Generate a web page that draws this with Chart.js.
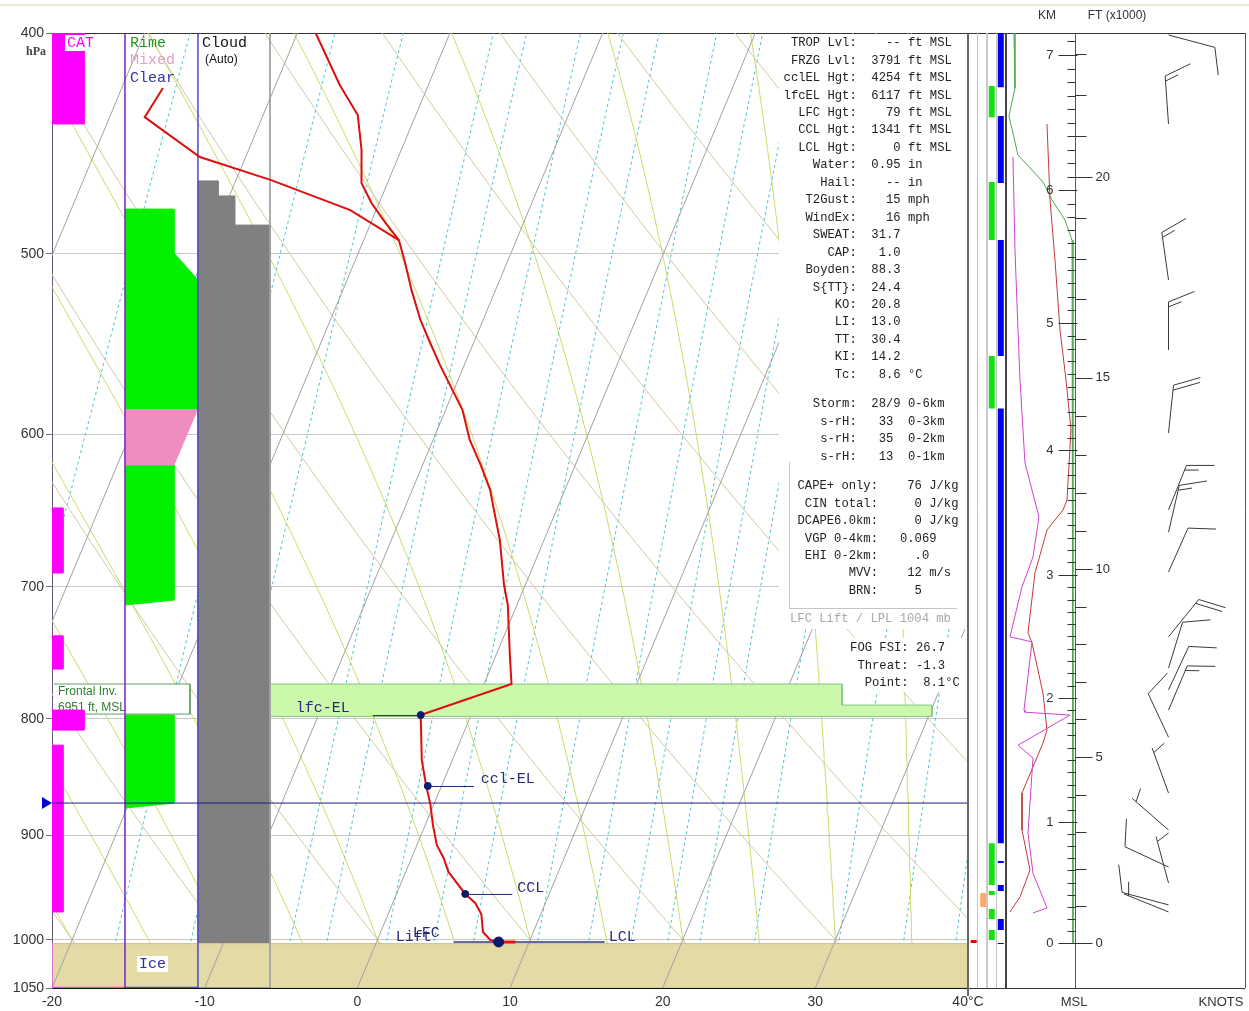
<!DOCTYPE html>
<html>
<head>
<meta charset="utf-8">
<title>Skew-T</title>
<script src="https://cdn.jsdelivr.net/npm/chart.js@4.4.1/dist/chart.umd.min.js"></script>
<style>
html,body{margin:0;padding:0;background:#fff;overflow:hidden;}
#wrap{position:relative;width:1249px;height:1011px;}
#wrap canvas{position:absolute;top:0;}
</style>
</head>
<body>
<div id="wrap">
<canvas id="cMain" width="1249" height="1011" style="left:0px;width:1249px;height:1011px"></canvas>
<canvas id="cStrip" width="38" height="1011" style="left:968px;width:38px;height:1011px"></canvas>
<canvas id="cProf" width="69" height="1011" style="left:1006px;width:69px;height:1011px"></canvas>
<canvas id="cWind" width="219" height="1011" style="left:1030px;width:219px;height:1011px"></canvas>
</div>
<script>
// ================= DATA =================
const pressureTicks = [400, 500, 600, 700, 800, 900, 1000, 1050];
const temperatureTicks = [-20, -10, 0, 10, 20, 30, 40];

const isothermTemps = [-60, -50, -40, -30, -20, -10, 0, 10, 20, 30, 40];
const dryAdiabatT1000 = [-60, -50, -40, -30, -20, -10, 0, 10, 20, 30, 40, 50, 60, 70, 80, 90, 100, 110, 120, 130];
const moistAdiabatT1000 = [-20, -15, -10, -5, 0, 5, 10, 15, 20, 25, 30, 35, 40, 45, 50];
const mixingRatios = [0.4, 1, 1.5, 2.5, 3, 4, 5, 6, 8, 10, 12, 14, 16, 20, 28, 36, 44];

// temperature profile (hPa, °C)
const tempP = [400, 421.6, 434.6, 450.2, 465.5, 475.0, 484.2, 493.1, 504.2, 518.7, 534.6, 545.5, 559.4, 573.7, 585.4, 603.4, 618.9, 634.7, 651.0, 667.6, 698.6, 713.0, 750.0, 772.3, 796.9, 834.0, 856.1, 872.8, 890.5, 908.7, 920.7, 933.8, 954.8, 963.5, 974.3, 992.2, 1000.3, 1002.3];
const tempT = [-28.8, -25.8, -23.8, -22.6, -21.7, -20.5, -19.1, -17.7, -16.7, -15.5, -14.1, -13.0, -11.6, -10.1, -8.9, -7.6, -6.2, -4.9, -3.9, -2.9, -1.4, -0.6, 0.9, 1.8, -3.3, -2.0, -1.0, -0.2, 0.5, 1.3, 2.1, 2.8, 4.5, 5.4, 6.1, 6.7, 7.4, 8.0];
// dew point where it leaves the temperature curve
const dewP = [493.1, 478.4, 464.1, 453.4, 435.5, 422.9];
const dewT = [-17.7, -21.7, -27.7, -33.0, -37.7, -37.3];
const surfaceP = 1004;
const surfaceSegT = [8.0, 9.1];
const freezingP = 871;
const lclLineP = 1002.3;
const lclLineX = [6.3, 16.2];

const parcelNames = ['lfc-EL', 'ccl-EL', 'CCL', 'LCL'];
const parcelP = [796.9, 856.1, 954.8, 1002.3];
const parcelT = [-3.3, -0.9, 4.5, 8.0];

// clear-air turbulence bars (hPa top/bottom, level 1 light / 2 moderate)
const catTopP = [400, 646.4, 735.6, 792.9, 821.5];
const catBotP = [438.5, 690.3, 760.7, 809.1, 972.3];
const catLevel = [2, 1, 1, 2, 1];
// icing polygons: [severity index, hPa]
const icingRime1 = [[0, 477.9], [1, 477.9], [1, 499.6], [2, 513.4], [2, 584.6], [0, 584.6]];
const icingMixed = [[0, 584.6], [2, 584.6], [1, 618.9], [0, 618.9]];
const icingRime2 = [[0, 618.9], [1, 618.9], [1, 709.5], [0, 713.0]];
const icingRime3 = [[0, 796.9], [1, 796.9], [1, 871.0], [0, 875.4]];
// cloud cover steps
const cloudP = [464.5, 471.6, 485.7, 1003.3];
const cloudCover = [0.28, 0.51, 1.0];
// frontal inversion layer
const inversionTopP = 772.3;
const inversionStepP = 788.9;
const inversionBotP = 798.0;

// side strip segments (hPa pairs)
const stripGreen = [[422.0, 435.5], [465.0, 493.1], [554.4, 584.6], [907.0, 946.2], [952.0, 955.8], [969.4, 979.3], [990.2, 1000.3]];
const stripBlue = [[400, 422.5], [435.0, 465.5], [493.1, 554.4], [584.6, 907.0], [923.5, 925.4], [946.2, 952.0], [979.3, 990.2], [1003.3, 1004.3]];
const stripOrange = [[953.9, 967.4]];
const stripRed = [[1000.3, 1003.3]];

// height panel profiles (hPa, panel units 0-100)
const panelGreenP = [400, 422.9, 435.0, 452.5, 465.0, 473.5, 483.2, 493.1, 508.3, 1003.3];
const panelGreenV = [11.6, 13.0, 4.3, 17.4, 53.6, 66.7, 85.5, 95.7, 97.1, 97.1];
const panelRedP = [438.5, 473.5, 503.2, 540.1, 568.0, 597.4, 641.2, 647.7, 661.0, 690.3, 733.4, 740.8, 779.4, 809.1, 819.8, 862.2, 895.0, 932.0, 957.7, 972.3];
const panelRedV = [59.4, 63.8, 71.0, 78.3, 87.0, 94.2, 88.4, 82.6, 59.4, 42.0, 31.9, 37.7, 53.6, 59.4, 53.6, 23.2, 23.2, 34.8, 20.3, 5.8];
const panelMagP = [453.4, 498.1, 540.1, 568.0, 617.7, 652.3, 679.3, 700.0, 736.3, 740.1, 792.9, 794.6, 796.9, 821.5, 832.3, 897.8, 934.9, 968.4, 973.3];
const panelMagV = [10.1, 13.0, 17.4, 20.3, 27.5, 47.8, 39.1, 23.2, 5.8, 37.7, 26.1, 27.5, 92.8, 17.4, 39.1, 31.9, 39.1, 59.4, 39.1];

// height axis
const kmTickLabels = [0, 1, 2, 3, 4, 5, 6, 7];
const kmTickP = [1003.3, 887.9, 783.3, 691.7, 609.8, 536.3, 468.9, 409.0];
const ftTickLabels = [0, 5, 10, 15, 20];

// wind barbs
const barbP = [400.8, 438.5, 513.4, 551.0, 599.2, 647.7, 662.4, 689.6, 736.3, 760.0, 776.9, 792.9, 814.9, 862.2, 895.0, 929.2, 944.3, 965.4, 972.3];
const barbDir = [105, 356, 352, 0, 6, 22, 13, 24, 39, 17, 25, 23, 335, 340, 311, 295, 345, 285, 292];
const barbKt = [10, 15, 15, 15, 20, 15, 15, 10, 20, 10, 10, 15, 10, 5, 5, 10, 5, 10, 5];

// indices table
const tableA = [
 ['TROP Lvl:', '    -- ft MSL'], ['FRZG Lvl:', '  3791 ft MSL'], ['cclEL Hgt:', '  4254 ft MSL'],
 ['lfcEL Hgt:', '  6117 ft MSL'], ['LFC Hgt:', '    79 ft MSL'], ['CCL Hgt:', '  1341 ft MSL'],
 ['LCL Hgt:', '     0 ft MSL'], ['Water:', '  0.95 in'], ['Hail:', '    -- in'],
 ['T2Gust:', '    15 mph'], ['WindEx:', '    16 mph'], ['SWEAT:', '  31.7'], ['CAP:', '   1.0'],
 ['Boyden:', '  88.3'], ['S{TT}:', '  24.4'], ['KO:', '  20.8'], ['LI:', '  13.0'],
 ['TT:', '  30.4'], ['KI:', '  14.2'], ['Tc:', '   8.6 °C']
];
const tableStorm = [['Storm:', '  28/9 0-6km'], ['s-rH:', '   33  0-3km'], ['s-rH:', '   35  0-2km'], ['s-rH:', '   13  0-1km']];
const tableB = [
 ['CAPE+ only:', '    76 J/kg'], ['CIN total:', '     0 J/kg'], ['DCAPE6.0km:', '     0 J/kg'],
 ['VGP 0-4km:', '   0.069'], ['EHI 0-2km:', '     .0'], ['MVV:', '    12 m/s'], ['BRN:', '     5']
];
const tableFog = [['FOG FSI:', ' 26.7'], ['Threat:', ' -1.3'], ['Point:', '  8.1°C']];

// ================= HELPERS =================
const SKEW = 62.2, PBOT = 1050, PTOP = 400;
function skewX(t, p) { return t + SKEW * Math.log10(PBOT / p); }
function dryCurve(t0) {
  const th = t0 + 273.15, pts = [];
  for (let p = 1050; p >= 400; p -= 10) pts.push({x: skewX(th * Math.pow(p / 1000, 0.2857) - 273.15, p), y: p});
  return pts;
}
function lapse(p, T) {
  const Tc = T - 273.15, es = 6.112 * Math.exp(17.67 * Tc / (Tc + 243.5)), rs = 0.622 * es / (p - es);
  return (287.04 * T + 2.501e6 * rs) / (p * (1005.7 + 2.501e6 * 2.501e6 * rs * 0.622 / (287.04 * T * T)));
}
function moistCurve(t0) {
  let T = t0 + 273.15, p = 1000; const up = [{p, T}];
  while (p > 400) { const k1 = lapse(p, T); const k2 = lapse(p - 1, T - k1); T -= 2 * k2; p -= 2; up.push({p, T}); }
  T = t0 + 273.15; p = 1000; const down = [];
  while (p < 1050) { const k1 = lapse(p, T); const k2 = lapse(p + 1, T + k1); T += 2 * k2; p += 2; down.push({p, T}); }
  const all = down.reverse().concat(up);
  return all.filter((o, i) => i % 5 === 0 || i === all.length - 1).map(o => ({x: skewX(o.T - 273.15, o.p), y: o.p}));
}
function mixCurve(w) {
  const pts = [];
  for (let p = 1050; p >= 400; p -= 25) {
    const e = w * p / (622 + w), l = Math.log(e / 6.112), td = 243.5 * l / (17.67 - l);
    pts.push({x: skewX(td, p), y: p});
  }
  return pts;
}
function rect(x0, x1, p0, p1) { return [{x: x0, y: p0}, {x: x1, y: p0}, {x: x1, y: p1}, {x: x0, y: p1}]; }

// layout of the side columns in the main chart (axis units)
const ICE_X = [-15.22, -12.01, -10.44];
const CLOUD_X0 = -10.44, CLOUD_X1 = -5.72;
const CAT_W = [0, 0.72, 2.10];
const MONO = '"Liberation Mono","Courier New",monospace';
const SANS = '"Liberation Sans",Arial,sans-serif';

Chart.defaults.font.family = SANS;
Chart.defaults.animation = false;

// ================= MAIN CHART =================
const ds = [];
const base = {pointRadius: 0, pointHoverRadius: 0, borderWidth: 1, fill: false, tension: 0, spanGaps: false};
function L(data, opts) { ds.push(Object.assign({}, base, {data}, opts)); }

dryAdiabatT1000.forEach(t => L(dryCurve(t), {borderColor: '#d4c8a0', order: 100}));
moistAdiabatT1000.forEach(t => L(moistCurve(t), {borderColor: '#cbdc68', order: 100}));
mixingRatios.forEach(w => L(mixCurve(w), {borderColor: '#4ac3d3', borderDash: [3, 3], order: 100}));
L(rect(-20, 40, surfaceP, 1050), {backgroundColor: '#e4daa6', borderColor: '#c9be86', borderWidth: 1, fill: 'shape', order: 90});
isothermTemps.forEach(t => L([{x: skewX(t, PBOT), y: PBOT}, {x: skewX(t, PTOP), y: PTOP}], {borderColor: '#a2a2a2', order: 80}));
// inversion band
L([{x: CLOUD_X1, y: inversionTopP}, {x: 31.75, y: inversionTopP}, {x: 31.75, y: inversionStepP}, {x: 37.64, y: inversionStepP}, {x: 37.64, y: inversionBotP}, {x: CLOUD_X1, y: inversionBotP}],
  {backgroundColor: '#ccf8ac', borderColor: '#86c486', fill: 'shape', order: 70});
// cloud column
(function () {
  const w = CLOUD_X1 - CLOUD_X0, pts = [{x: CLOUD_X0, y: cloudP[3]}, {x: CLOUD_X0, y: cloudP[0]}];
  for (let i = 0; i < 3; i++) { pts.push({x: CLOUD_X0 + cloudCover[i] * w, y: cloudP[i]}); pts.push({x: CLOUD_X0 + cloudCover[i] * w, y: cloudP[i + 1]}); }
  L(pts, {backgroundColor: '#808080', borderColor: '#808080', fill: 'shape', order: 70});
})();
[[icingRime1, '#00f000'], [icingMixed, '#ee8ec0'], [icingRime2, '#00f000'], [icingRime3, '#00f000']].forEach(([poly, col]) =>
  L(poly.map(([s, p]) => ({x: ICE_X[s], y: p})), {backgroundColor: col, borderColor: col, fill: 'shape', order: 70}));
// frontal inversion label box
L(rect(-19.87, -10.96, 772.3, 796.1), {backgroundColor: '#ffffff', borderColor: '#5f9f5f', fill: 'shape', order: 60,
  texts: [{t: 'Frontal Inv.', dx: 4, dy: 8}, {t: '6951 ft, MSL', dx: 4, dy: 24}]});
// CAT bars
catTopP.forEach((t, i) => L(rect(-20, -20 + CAT_W[catLevel[i]], t, catBotP[i]), {backgroundColor: '#ff00ff', borderColor: '#ff00ff', fill: 'shape', order: 50}));
// column outlines
L([{x: ICE_X[0], y: 400}, {x: ICE_X[0], y: 1050}], {borderColor: '#7a22c4', borderWidth: 1.5, order: 40});
L([{x: ICE_X[2], y: 400}, {x: ICE_X[2], y: 1050}], {borderColor: '#4a4ac8', borderWidth: 1.5, order: 40});
L([{x: CLOUD_X1, y: 400}, {x: CLOUD_X1, y: 1050}], {borderColor: '#a0a0a0', order: 40});
L([{x: -20, y: surfaceP}, {x: -20, y: 1049.5}, {x: ICE_X[0], y: 1049.5}], {borderColor: '#e050e0', borderWidth: 1.5, order: 40});
L([{x: ICE_X[0], y: 1049.5}, {x: ICE_X[2], y: 1049.5}], {borderColor: '#4a4ac8', borderWidth: 1.5, order: 40});
L([{x: ICE_X[2], y: 1049.5}, {x: CLOUD_X1, y: 1049.5}], {borderColor: '#999999', order: 40});
// freezing level and LCL line
L([{x: -20, y: freezingP}, {x: 40, y: freezingP}], {borderColor: '#1c1c8c', order: 30});
L([{x: lclLineX[0], y: lclLineP}, {x: lclLineX[1], y: lclLineP}], {borderColor: '#5f6c9c', borderWidth: 2, order: 30});
// profiles
L(tempP.map((p, i) => ({x: skewX(tempT[i], p), y: p})), {borderColor: '#dc1010', borderWidth: 2, order: 20});
L(dewP.map((p, i) => ({x: skewX(dewT[i], p), y: p})), {borderColor: '#dc1010', borderWidth: 2, order: 20});
L(surfaceSegT.map(t => ({x: skewX(t, lclLineP), y: lclLineP})), {borderColor: '#ee1010', borderWidth: 3, order: 20});
L(parcelP.map((p, i) => ({x: skewX(parcelT[i], p), y: p})), {showLine: false, pointRadius: [3.5, 3.5, 3.5, 5], pointBackgroundColor: '#0a1a6a', pointBorderColor: '#0a1a6a', order: 10});

function txt(ctx, s, x, y, font, color, align) {
  ctx.font = font; ctx.fillStyle = color; ctx.textAlign = align || 'left'; ctx.textBaseline = 'middle'; ctx.fillText(s, x, y);
}
function boxTxt(ctx, s, x, y, font, color) {
  ctx.font = font; const w = ctx.measureText(s).width;
  ctx.fillStyle = '#fff'; ctx.fillRect(x - 2, y - 8, w + 4, 16);
  txt(ctx, s, x, y, font, color);
}

const datasetTextPlugin = {
  id: 'dsText',
  afterDatasetDraw(chart, args) {
    const d = chart.data.datasets[args.index];
    if (!d.texts) return;
    const c = chart.ctx, xs = chart.scales.x, ys = chart.scales.y;
    const rx = xs.getPixelForValue(d.data[0].x), ry = ys.getPixelForValue(d.data[0].y);
    d.texts.forEach(o => txt(c, o.t, rx + o.dx, ry + o.dy, '12px ' + SANS, '#2f7d2f'));
  }
};

const mainPlugin = {
  id: 'mainDecor',
  afterDatasetsDraw(chart) {
    const c = chart.ctx, xs = chart.scales.x, ys = chart.scales.y, a = chart.chartArea;
    c.save();
    // table backgrounds
    c.fillStyle = '#fff';
    c.fillRect(779, a.top + 1, a.right - 779 - 1, 628 - a.top);
    c.fillRect(845, 638, a.right - 845 - 1, 54);
    const F = '12.2px ' + MONO;
    tableA.forEach((r, i) => { const y = 43 + i * 17.45; txt(c, r[0], 856.7, y, F, '#222', 'right'); txt(c, r[1], 856.7, y, F, '#222', 'left'); });
    tableStorm.forEach((r, i) => { const y = 404 + i * 17.45; txt(c, r[0], 856.7, y, F, '#222', 'right'); txt(c, r[1], 856.7, y, F, '#222', 'left'); });
    tableB.forEach((r, i) => { const y = 486 + i * 17.45; txt(c, r[0], 878, y, F, '#222', 'right'); txt(c, r[1], 878, y, F, '#222', 'left'); });
    tableFog.forEach((r, i) => { const y = 648 + i * 17.45; txt(c, r[0], 908.6, y, F, '#222', 'right'); txt(c, r[1], 908.6, y, F, '#222', 'left'); });
    txt(c, 'LFC Lift / LPL 1004 mb', 790, 619, F, '#a8a8a8');
    c.strokeStyle = '#c4c4c4'; c.lineWidth = 1;
    c.beginPath(); c.moveTo(789.5, 462); c.lineTo(789.5, 608.5); c.lineTo(957, 608.5); c.stroke();

    // column headers
    const F15 = '15px ' + MONO;
    boxTxt(c, 'CAT', 67, 43, F15, '#ff00ff');
    txt(c, 'Rime', 130, 43, F15, '#229922');
    txt(c, 'Mixed', 130, 60, F15, '#e8a0c8');
    txt(c, 'Clear', 130, 78, F15, '#3333aa');
    txt(c, 'Cloud', 202, 43, F15, '#111');
    txt(c, '(Auto)', 205, 60, '12px ' + SANS, '#111');
    txt(c, 'hPa', 36, 52, 'bold 12px "Liberation Serif",serif', '#444', 'center');
    boxTxt(c, 'Ice', 139, 964, F15, '#3030a0');

    // parcel labels with leader lines
    const px = parcelP.map((p, i) => xs.getPixelForValue(skewX(parcelT[i], p)));
    const py = parcelP.map(p => ys.getPixelForValue(p));
    c.strokeStyle = '#1a2a7a'; c.lineWidth = 1;
    c.beginPath();
    c.moveTo(px[0] - 48, py[0] + 0.5); c.lineTo(px[0], py[0] + 0.5);
    c.moveTo(px[1], py[1] + 0.5); c.lineTo(px[1] + 46, py[1] + 0.5);
    c.moveTo(px[2], py[2] + 0.5); c.lineTo(px[2] + 47, py[2] + 0.5);
    c.stroke();
    const NAV = '#2a2a78';
    txt(c, parcelNames[0], px[0] - 125, py[0] - 7, F15, NAV);
    txt(c, parcelNames[1], px[1] + 53, py[1] - 7, F15, NAV);
    txt(c, parcelNames[2], px[2] + 52, py[2] - 6, F15, NAV);
    txt(c, parcelNames[3], xs.getPixelForValue(lclLineX[1]) + 4, py[3] - 5, F15, NAV);
    txt(c, 'Lift', px[3] - 103, py[3] - 5, F15, NAV);
    txt(c, 'LFC', px[3] - 86, py[3] - 9, F15, NAV);

    // freezing marker
    const fy = ys.getPixelForValue(freezingP);
    c.fillStyle = '#0000d0'; c.beginPath(); c.moveTo(a.left - 10, fy - 6); c.lineTo(a.left, fy); c.lineTo(a.left - 10, fy + 6); c.closePath(); c.fill();

    // right panel frame
    c.strokeStyle = '#333'; c.lineWidth = 1;
    c.beginPath(); c.moveTo(a.right, a.top + 0.5); c.lineTo(1245, a.top + 0.5); c.stroke();
    c.beginPath(); c.moveTo(a.right, a.bottom + 0.5); c.lineTo(1245, a.bottom + 0.5); c.stroke();
    c.strokeStyle = '#555';
    c.beginPath(); c.moveTo(1245.5, a.top); c.lineTo(1245.5, a.bottom); c.stroke();
    c.strokeStyle = '#666'; c.lineWidth = 2;
    c.beginPath(); c.moveTo(a.right, a.top); c.lineTo(a.right, a.bottom + 8); c.stroke();
    c.strokeStyle = '#444';
    c.beginPath(); c.moveTo(1006, a.top); c.lineTo(1006, a.bottom); c.stroke();
    c.strokeStyle = '#ece8d6'; c.lineWidth = 2;
    c.beginPath(); c.moveTo(0, 5); c.lineTo(1249, 5); c.stroke();
    txt(c, 'KM', 1047, 16, '12px ' + SANS, '#333', 'center');
    txt(c, 'FT (x1000)', 1117, 16, '12px ' + SANS, '#333', 'center');
    txt(c, 'MSL', 1074, 1002, '13px ' + SANS, '#333', 'center');
    txt(c, 'KNOTS', 1221, 1002, '13px ' + SANS, '#333', 'center');
    c.restore();
  }
};

new Chart(document.getElementById('cMain'), {
  type: 'line',
  data: {datasets: ds},
  plugins: [datasetTextPlugin, mainPlugin],
  options: {
    responsive: false, maintainAspectRatio: false, devicePixelRatio: 1, animation: false, events: [],
    layout: {padding: {left: 0, top: 33, right: 281, bottom: 0}},
    plugins: {legend: {display: false}, tooltip: {enabled: false}},
    scales: {
      x: {
        type: 'linear', min: -20, max: 40,
        afterBuildTicks: s => { s.ticks = temperatureTicks.map(v => ({value: v})); },
        afterFit: s => { s.height = 23; },
        ticks: {callback: v => v === 40 ? '40°C' : String(v), font: {size: 14}, color: '#333', padding: 1, maxRotation: 0, autoSkip: false},
        grid: {drawOnChartArea: false, drawTicks: true, tickLength: 5, tickColor: 'rgba(0,0,0,0)'},
        border: {display: true, color: '#111', width: 1}
      },
      y: {
        type: 'logarithmic', reverse: true, min: 400, max: 1050,
        afterBuildTicks: s => { s.ticks = pressureTicks.map(v => ({value: v})); },
        afterFit: s => { s.width = 52; },
        ticks: {callback: v => String(v), font: {size: 14}, color: '#333', padding: 2, autoSkip: false},
        grid: {color: c => (c.tick && c.tick.value === 400) ? '#333' : '#c8c8c8', tickColor: '#777', tickLength: 6},
        border: {display: true, color: '#6a5a7a', width: 1}
      }
    }
  }
});

// ================= SIDE STRIP =================
function segs(list, col) { const out = []; list.forEach(([a, b]) => { out.push({x: col, y: a}, {x: col, y: b}, {x: col, y: null}); }); return out; }
const logY = {type: 'logarithmic', reverse: true, min: 400, max: 1050, display: false};
const overlayOpts = (pad, xmin, xmax) => ({
  responsive: false, maintainAspectRatio: false, devicePixelRatio: 1, animation: false, events: [],
  layout: {padding: pad},
  plugins: {legend: {display: false}, tooltip: {enabled: false}},
  scales: {x: {type: 'linear', min: xmin, max: xmax, display: false}, y: logY}
});
const stripBase = {pointRadius: 0, borderWidth: 6, borderCapStyle: 'butt', fill: false, spanGaps: false};
new Chart(document.getElementById('cStrip'), {
  type: 'line',
  data: {datasets: [
    Object.assign({}, stripBase, {data: segs(stripRed, 0.6), borderColor: '#ee0000'}),
    Object.assign({}, stripBase, {data: segs(stripOrange, 1.6), borderColor: '#ffa868'}),
    Object.assign({}, stripBase, {data: segs(stripGreen, 2.5), borderColor: '#14e014'}),
    Object.assign({}, stripBase, {data: segs(stripBlue, 3.45), borderColor: '#0000ee'}),
    Object.assign({}, stripBase, {data: [1, 2, 3].flatMap(x => [{x, y: 400}, {x, y: 1050}, {x, y: null}]), borderColor: '#c4c4c4', borderWidth: 1, order: 5})
  ]},
  options: overlayOpts({top: 33, bottom: 23, left: 0, right: 0}, 0, 4)
});

// ================= PROFILE PANEL =================
const profBase = {pointRadius: 0, borderWidth: 1, fill: false, tension: 0};
new Chart(document.getElementById('cProf'), {
  type: 'line',
  data: {datasets: [
    Object.assign({}, profBase, {data: panelMagP.map((p, i) => ({x: panelMagV[i], y: p})), borderColor: '#d040d0'}),
    Object.assign({}, profBase, {data: panelRedP.map((p, i) => ({x: panelRedV[i], y: p})), borderColor: '#c03a3a'}),
    Object.assign({}, profBase, {data: panelGreenP.map((p, i) => ({x: panelGreenV[i], y: p})), borderColor: '#4aaa4a'})
  ]},
  options: overlayOpts({top: 33, bottom: 23, left: 0, right: 0}, 0, 100)
});

// ================= HEIGHT AXIS + WIND BARBS =================
function kmToP(h) {
  const lp = kmTickP.map(Math.log10);
  let i = Math.min(Math.floor(h), lp.length - 2);
  if (i < 0) i = 0;
  return Math.pow(10, lp[i] + (h - i) * (lp[i + 1] - lp[i]));
}
function drawBarb(c, bx, by, dir, spd) {
  const L = 48, FL = 28, HL = 14, SP = 5;
  const r = dir * Math.PI / 180, ux = Math.sin(r), uy = -Math.cos(r);
  const tx = bx + ux * L, ty = by + uy * L;
  const fr = (dir + 68) * Math.PI / 180, fx = Math.sin(fr), fy = -Math.cos(fr);
  c.beginPath(); c.moveTo(bx, by); c.lineTo(tx, ty);
  let s = spd, d = 0;
  while (s >= 10) { const qx = tx - ux * d, qy = ty - uy * d; c.moveTo(qx, qy); c.lineTo(qx + fx * FL, qy + fy * FL); s -= 10; d += SP; }
  if (s >= 5) { if (d === 0) d = SP; const qx = tx - ux * d, qy = ty - uy * d; c.moveTo(qx, qy); c.lineTo(qx + fx * HL, qy + fy * HL); }
  c.stroke();
}
const windPlugin = {
  id: 'wind',
  afterDraw(chart) {
    const c = chart.ctx, ys = chart.scales.y, xs = chart.scales.x, a = chart.chartArea;
    const ax = a.left + 0.5;
    c.save();
    c.strokeStyle = '#555'; c.lineWidth = 1;
    c.beginPath(); c.moveTo(ax, a.top); c.lineTo(ax, a.bottom); c.stroke();
    c.strokeStyle = '#333';
    c.beginPath();
    for (let k = 0; k <= 71; k++) { const y = Math.round(ys.getPixelForValue(kmToP(k / 10))) + 0.5; if (y < a.top) continue; c.moveTo(ax - 8, y); c.lineTo(ax, y); }
    kmTickLabels.forEach((k, i) => { const y = Math.round(ys.getPixelForValue(kmTickP[i])) + 0.5; c.moveTo(ax - 17, y); c.lineTo(ax + (k === 0 ? 10 : 2), y); });
    for (let f = 0; f <= 23; f++) { const y = Math.round(ys.getPixelForValue(kmToP(f * 0.3048))) + 0.5; c.moveTo(ax, y); c.lineTo(ax + (f % 5 === 0 ? 17 : 11), y); }
    c.stroke();
    kmTickLabels.forEach((k, i) => txt(c, String(k), ax - 22, ys.getPixelForValue(kmTickP[i]), '13px ' + SANS, '#333', 'right'));
    ftTickLabels.forEach(f => txt(c, String(f), ax + 20, ys.getPixelForValue(kmToP(f * 0.3048)), '13px ' + SANS, '#333', 'left'));
    // barbs
    c.strokeStyle = '#3a3a3a'; c.lineWidth = 1;
    const bx = xs.getPixelForValue(0.55);
    barbP.forEach((p, i) => drawBarb(c, bx, ys.getPixelForValue(p), barbDir[i], barbKt[i]));
    c.restore();
  }
};
new Chart(document.getElementById('cWind'), {
  type: 'line',
  data: {datasets: [{data: [], pointRadius: 0}]},
  plugins: [windPlugin],
  options: overlayOpts({top: 33, bottom: 23, left: 45, right: 4}, 0, 1)
});
</script>
</body>
</html>
